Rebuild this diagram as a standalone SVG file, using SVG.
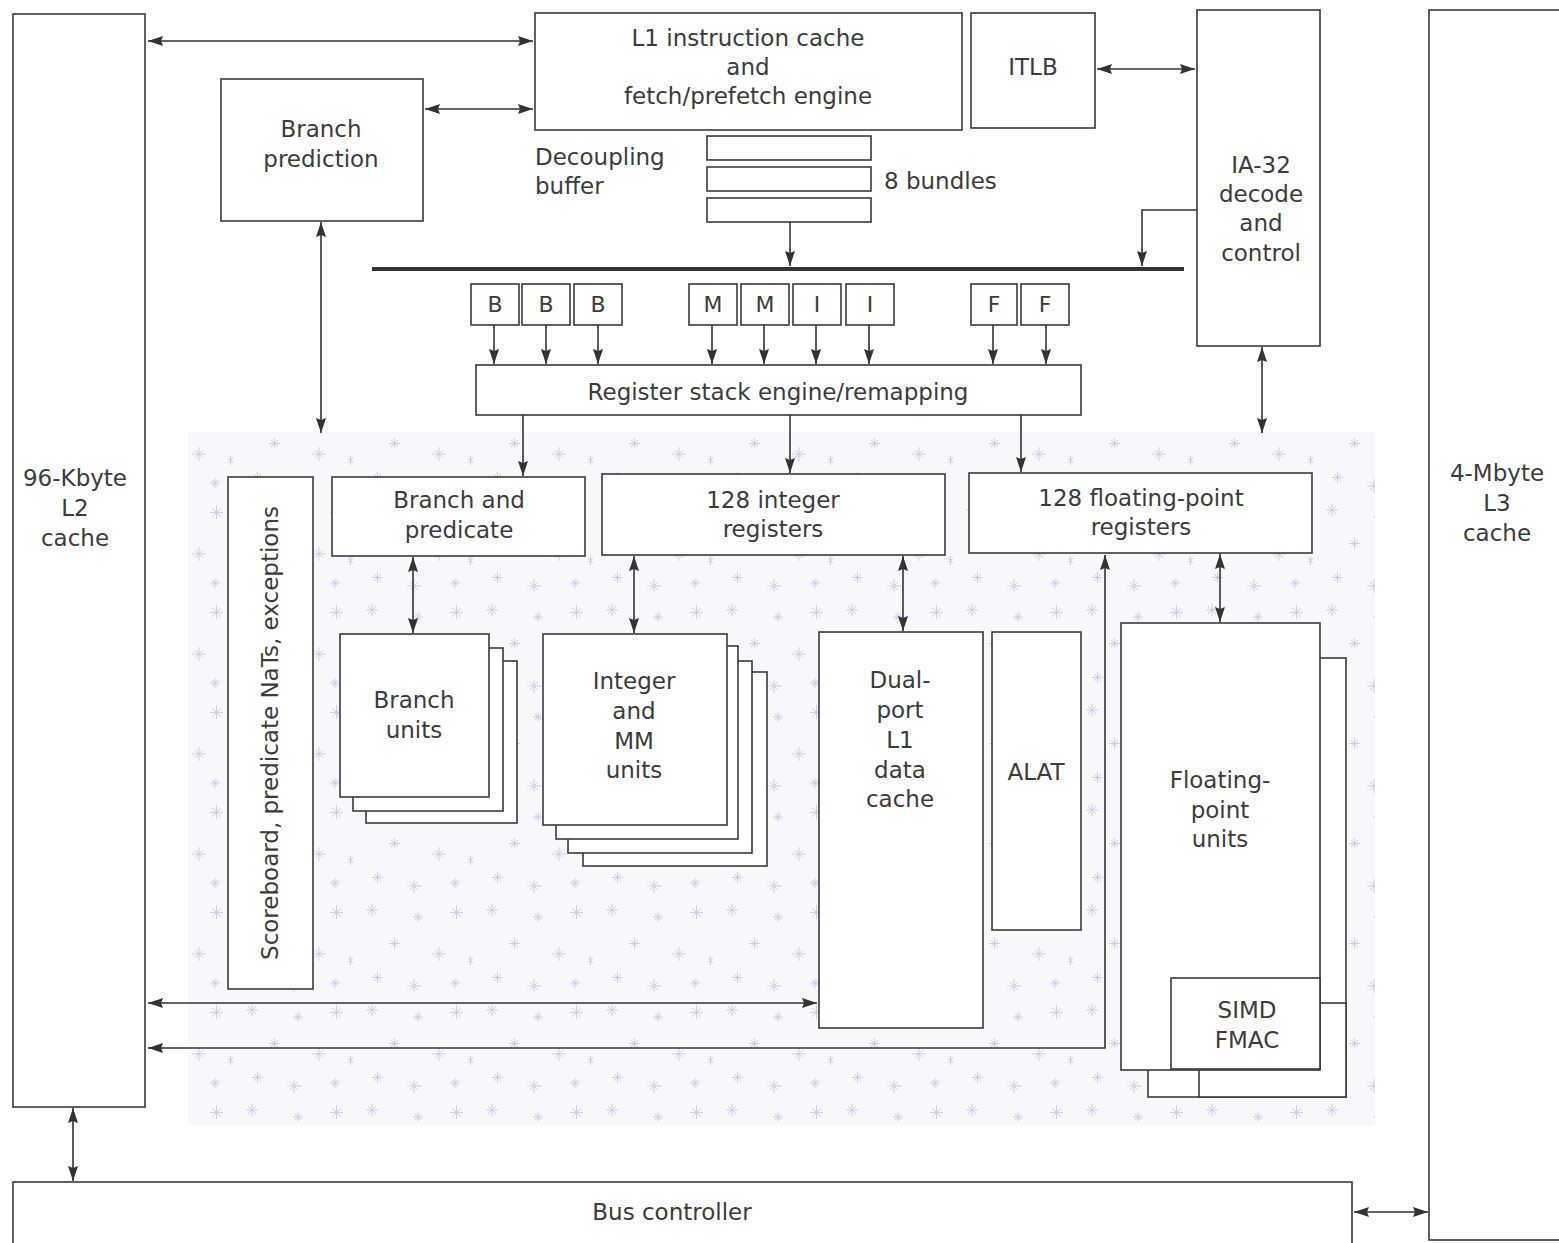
<svg xmlns="http://www.w3.org/2000/svg" width="1559" height="1243" viewBox="0 0 1559 1243">
<defs>
<style>
.box{fill:#fff;stroke:#3a3a3a;stroke-width:1.6}
.t{font-family:"DejaVu Sans","Liberation Sans",sans-serif;font-size:23px;fill:#3c3c3c;text-anchor:middle}
.tl{text-anchor:start}
.s{font-size:22px}
.c{fill:none;stroke:#333;stroke-width:1.6}
</style>
<marker id="ah" viewBox="0 0 15 10" refX="15" refY="5" markerWidth="15" markerHeight="10" markerUnits="userSpaceOnUse" orient="auto-start-reverse">
<path d="M0,0 L15,5 L0,10 L2,5 z" fill="#333"/>
</marker>
<pattern id="speck" width="120" height="100" patternUnits="userSpaceOnUse">
<g stroke="#cbcde6" stroke-width="1" fill="none">
<path d="M8,6 l8,8 M16,6 l-8,8 M12,4 v12 M6,10 h12"/>
<path d="M55,14 l6,6 M61,14 l-6,6 M58,12 v10 M53,17 h10"/>
<path d="M92,8 l9,9 M101,8 l-9,9 M96.5,5 v14 M90,12.5 h13"/>
<path d="M31,40 l7,7 M38,40 l-7,7 M34.5,38 v11 M29,43.5 h11"/>
<path d="M75,50 l8,8 M83,50 l-8,8 M79,47 v14 M72,54 h14"/>
<path d="M108,58 l5,5 M113,58 l-5,5 M110.5,56 v9"/>
<path d="M14,74 l7,7 M21,74 l-7,7 M17.5,72 v11 M12,77.5 h11"/>
<path d="M50,82 l8,8 M58,82 l-8,8 M54,79 v14 M47,86 h14"/>
<path d="M92,80 l6,6 M98,80 l-6,6 M95,78 v10 M90,83 h10"/>
</g>
</pattern>
</defs>
<rect width="1559" height="1243" fill="#fff"/>
<g id="texture">
<rect x="188" y="432" width="1187" height="693" fill="#f8f8fc"/>
<rect x="188" y="432" width="1187" height="693" fill="url(#speck)"/>
</g>

<g id="l2-cache"><rect class="box" x="13" y="14" width="132" height="1093"/>
<text class="t" x="75" y="486">96-Kbyte</text><text class="t" x="75" y="516">L2</text><text class="t" x="75" y="546">cache</text></g>

<g id="l3-cache"><rect class="box" x="1429" y="10" width="140" height="1230"/>
<text class="t" x="1497" y="481">4-Mbyte</text><text class="t" x="1497" y="511">L3</text><text class="t" x="1497" y="541">cache</text></g>

<g id="l1-icache"><rect class="box" x="535" y="13" width="427" height="117"/>
<text class="t" x="748" y="46">L1 instruction cache</text><text class="t" x="748" y="75">and</text><text class="t" x="748" y="104">fetch/prefetch engine</text></g>

<g id="itlb"><rect class="box" x="971" y="13" width="124" height="115"/>
<text class="t" x="1033" y="75">ITLB</text></g>

<g id="ia32"><rect class="box" x="1197" y="10" width="123" height="336"/>
<text class="t" x="1261" y="173">IA-32</text><text class="t" x="1261" y="202">decode</text><text class="t" x="1261" y="231">and</text><text class="t" x="1261" y="261">control</text></g>

<g id="branch-prediction"><rect class="box" x="221" y="79" width="202" height="142"/>
<text class="t" x="321" y="137">Branch</text><text class="t" x="321" y="167">prediction</text></g>

<g id="decoupling-buffer">
<rect class="box" x="707" y="136" width="164" height="24"/>
<rect class="box" x="707" y="167" width="164" height="24"/>
<rect class="box" x="707" y="198" width="164" height="24"/>
<text class="t tl" x="535" y="165">Decoupling</text><text class="t tl" x="535" y="194">buffer</text>
<text class="t tl" x="884" y="189">8 bundles</text></g>

<g id="issue-bus"><line x1="372" y1="269" x2="1184" y2="269" stroke="#333" stroke-width="4"/></g>

<g id="slots">
<rect class="box" x="471" y="284" width="48" height="41"/><text class="t s" x="495" y="312">B</text>
<rect class="box" x="522" y="284" width="48" height="41"/><text class="t s" x="546" y="312">B</text>
<rect class="box" x="574" y="284" width="48" height="41"/><text class="t s" x="598" y="312">B</text>
<rect class="box" x="689" y="284" width="48" height="41"/><text class="t s" x="713" y="312">M</text>
<rect class="box" x="741" y="284" width="48" height="41"/><text class="t s" x="765" y="312">M</text>
<rect class="box" x="793" y="284" width="48" height="41"/><text class="t s" x="817" y="312">I</text>
<rect class="box" x="846" y="284" width="48" height="41"/><text class="t s" x="870" y="312">I</text>
<rect class="box" x="971" y="284" width="46" height="41"/><text class="t s" x="994" y="312">F</text>
<rect class="box" x="1021" y="284" width="48" height="41"/><text class="t s" x="1045" y="312">F</text>
</g>

<g id="rse"><rect class="box" x="476" y="365" width="605" height="50"/>
<text class="t" x="778" y="400">Register stack engine/remapping</text></g>

<g id="branch-predicate"><rect class="box" x="332" y="477" width="253" height="79"/>
<text class="t" x="459" y="508">Branch and</text><text class="t" x="459" y="538">predicate</text></g>

<g id="int-registers"><rect class="box" x="602" y="474" width="343" height="81"/>
<text class="t" x="773" y="508">128 integer</text><text class="t" x="773" y="537">registers</text></g>

<g id="fp-registers"><rect class="box" x="969" y="473" width="343" height="80"/>
<text class="t" x="1141" y="506">128 floating-point</text><text class="t" x="1141" y="535">registers</text></g>

<g id="scoreboard"><rect class="box" x="228" y="477" width="85" height="512"/>
<text class="t" transform="translate(278,733) rotate(-90)">Scoreboard, predicate NaTs, exceptions</text></g>

<g id="branch-units">
<rect class="box" x="366" y="661" width="151" height="162"/>
<rect class="box" x="353" y="648" width="150" height="163"/>
<rect class="box" x="340" y="634" width="149" height="163"/>
<text class="t" x="414" y="708">Branch</text><text class="t" x="414" y="738">units</text></g>

<g id="int-mm-units">
<rect class="box" x="583" y="672" width="184" height="194"/>
<rect class="box" x="568" y="661" width="184" height="192"/>
<rect class="box" x="556" y="646" width="182" height="193"/>
<rect class="box" x="543" y="634" width="184" height="191"/>
<text class="t" x="634" y="689">Integer</text><text class="t" x="634" y="719">and</text><text class="t" x="634" y="749">MM</text><text class="t" x="634" y="778">units</text></g>

<g id="l1-dcache"><rect class="box" x="819" y="632" width="164" height="396"/>
<text class="t" x="900" y="688">Dual-</text><text class="t" x="900" y="718">port</text><text class="t" x="900" y="748">L1</text><text class="t" x="900" y="778">data</text><text class="t" x="900" y="807">cache</text></g>

<g id="alat"><rect class="box" x="992" y="632" width="89" height="298"/>
<text class="t" x="1036" y="780">ALAT</text></g>

<g id="fp-units">
<rect class="box" x="1148" y="658" width="198" height="439"/>
<rect class="box" x="1199" y="1003" width="147" height="94"/>
<rect class="box" x="1121" y="623" width="199" height="447"/>
<text class="t" x="1220" y="788">Floating-</text><text class="t" x="1220" y="818">point</text><text class="t" x="1220" y="847">units</text></g>

<g id="simd-fmac"><rect class="box" x="1171" y="978" width="149" height="91"/>
<text class="t" x="1247" y="1018">SIMD</text><text class="t" x="1247" y="1048">FMAC</text></g>

<g id="bus-controller"><rect class="box" x="13" y="1182" width="1339" height="70"/>
<text class="t" x="672" y="1220">Bus controller</text></g>

<g id="connectors">
<line class="c" x1="148" y1="41" x2="533" y2="41" marker-start="url(#ah)" marker-end="url(#ah)"/>
<line class="c" x1="425" y1="109" x2="533" y2="109" marker-start="url(#ah)" marker-end="url(#ah)"/>
<line class="c" x1="1097" y1="69" x2="1195" y2="69" marker-start="url(#ah)" marker-end="url(#ah)"/>
<path class="c" d="M1197,210 H1142 V266" marker-end="url(#ah)"/>
<line class="c" x1="790" y1="222" x2="790" y2="266" marker-end="url(#ah)"/>
<line class="c" x1="321" y1="222" x2="321" y2="433" marker-start="url(#ah)" marker-end="url(#ah)"/>
<line class="c" x1="1262" y1="347" x2="1262" y2="433" marker-start="url(#ah)" marker-end="url(#ah)"/>
<line class="c" x1="494" y1="325" x2="494" y2="364" marker-end="url(#ah)"/>
<line class="c" x1="546" y1="325" x2="546" y2="364" marker-end="url(#ah)"/>
<line class="c" x1="598" y1="325" x2="598" y2="364" marker-end="url(#ah)"/>
<line class="c" x1="712" y1="325" x2="712" y2="364" marker-end="url(#ah)"/>
<line class="c" x1="764" y1="325" x2="764" y2="364" marker-end="url(#ah)"/>
<line class="c" x1="816" y1="325" x2="816" y2="364" marker-end="url(#ah)"/>
<line class="c" x1="869" y1="325" x2="869" y2="364" marker-end="url(#ah)"/>
<line class="c" x1="993" y1="325" x2="993" y2="364" marker-end="url(#ah)"/>
<line class="c" x1="1046" y1="325" x2="1046" y2="364" marker-end="url(#ah)"/>
<line class="c" x1="523" y1="415" x2="523" y2="476" marker-end="url(#ah)"/>
<line class="c" x1="790" y1="415" x2="790" y2="473" marker-end="url(#ah)"/>
<line class="c" x1="1021" y1="415" x2="1021" y2="472" marker-end="url(#ah)"/>
<line class="c" x1="413" y1="557" x2="413" y2="633" marker-start="url(#ah)" marker-end="url(#ah)"/>
<line class="c" x1="634" y1="556" x2="634" y2="633" marker-start="url(#ah)" marker-end="url(#ah)"/>
<line class="c" x1="903" y1="556" x2="903" y2="631" marker-start="url(#ah)" marker-end="url(#ah)"/>
<line class="c" x1="1220" y1="554" x2="1220" y2="622" marker-start="url(#ah)" marker-end="url(#ah)"/>
<line class="c" x1="148" y1="1003" x2="817" y2="1003" marker-start="url(#ah)" marker-end="url(#ah)"/>
<path class="c" d="M148,1048 H1105 V555" marker-start="url(#ah)" marker-end="url(#ah)"/>
<line class="c" x1="73" y1="1108" x2="73" y2="1181" marker-start="url(#ah)" marker-end="url(#ah)"/>
<line class="c" x1="1354" y1="1212" x2="1428" y2="1212" marker-start="url(#ah)" marker-end="url(#ah)"/>
</g>
</svg>
